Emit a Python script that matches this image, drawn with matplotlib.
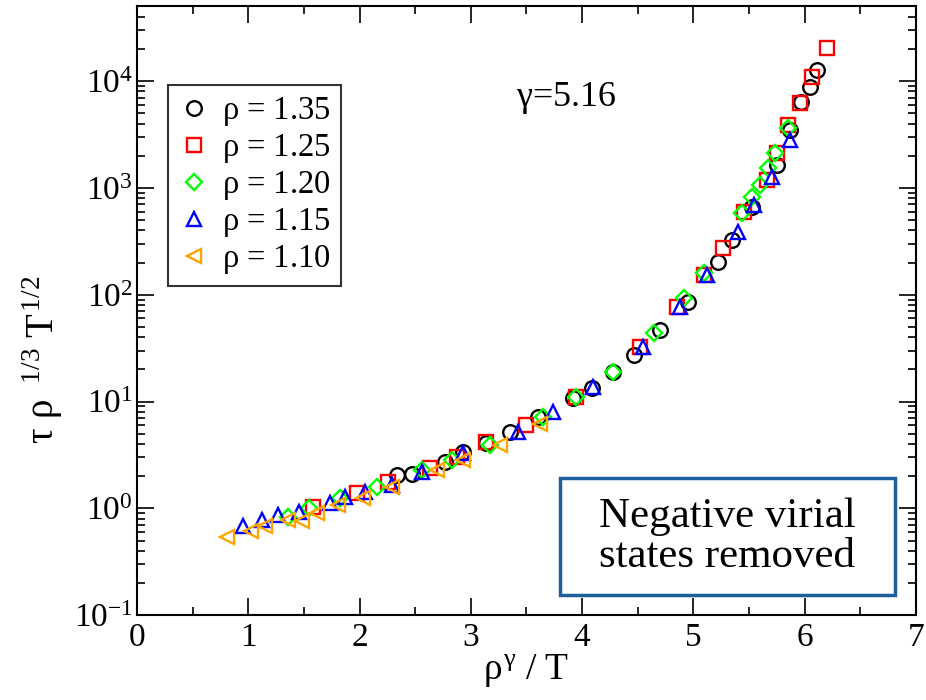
import matplotlib
matplotlib.use("Agg")
import matplotlib.pyplot as plt
from matplotlib.patches import Rectangle
from matplotlib.ticker import LogLocator, MultipleLocator, NullFormatter

plt.rcParams['font.family'] = ['Liberation Serif', 'DejaVu Serif']
plt.rcParams['mathtext.fontset'] = 'custom'
plt.rcParams['mathtext.rm'] = 'Liberation Serif'
plt.rcParams['mathtext.it'] = 'Liberation Serif'

# rho = 1.35
x135 = [2.34, 2.47, 2.77, 2.93, 3.14, 3.35, 3.60, 3.92, 4.09, 4.28, 4.47, 4.70,
        4.95, 5.22, 5.35, 5.53, 5.75, 5.87, 5.97, 6.05, 6.11]
y135 = [2.05, 2.09, 2.71, 3.36, 4.07, 5.16, 7.14, 10.8, 13.3, 18.8, 27.2, 46.6,
        85.3, 202, 324, 661, 1634, 3475, 6360, 8790, 12680]
# rho = 1.25
x125 = [1.58, 1.98, 2.26, 2.63, 2.88, 3.14, 3.50, 3.95, 4.52, 4.85, 5.10, 5.27,
        5.46, 5.66, 5.75, 5.85, 5.96, 6.07, 6.20]
y125 = [1.03, 1.39, 1.76, 2.38, 3.01, 4.17, 6.02, 11.0, 32.3, 76.6, 153, 273,
        593, 1183, 2118, 3875, 6223, 10900, 20370]
# rho = 1.20
x120 = [1.36, 1.55, 1.82, 2.16, 2.56, 2.83, 3.17, 3.65, 3.95, 4.28, 4.65, 4.92,
        5.10, 5.44, 5.53, 5.60, 5.67, 5.73, 5.85]
y120 = [0.83, 1.00, 1.25, 1.58, 2.28, 2.83, 3.91, 7.14, 11.0, 18.8, 43.6, 92.9,
        159, 581, 820, 1062, 1531, 2118, 3631]
# rho = 1.15
x115 = [0.95, 1.12, 1.27, 1.46, 1.73, 1.87, 2.05, 2.29, 2.56, 2.93, 3.42, 3.74,
        4.10, 4.55, 4.88, 5.12, 5.40, 5.55, 5.71, 5.87]
y115 = [0.68, 0.78, 0.86, 0.92, 1.12, 1.27, 1.42, 1.65, 2.18, 3.29, 5.16, 7.96,
        13.6, 32.3, 76.6, 153, 385, 690, 1262, 2808]
# rho = 1.10
x110 = [0.81, 1.02, 1.15, 1.36, 1.48, 1.62, 1.81, 2.03, 2.29, 2.70, 2.93, 3.26, 3.62]
y110 = [0.54, 0.61, 0.68, 0.78, 0.76, 0.90, 1.07, 1.25, 1.58, 2.28, 2.83, 3.91, 6.14]

series = [
    (x135, y135, 'o', 'black', r'$\rho$ = 1.35'),
    (x125, y125, 's', '#ff0000', r'$\rho$ = 1.25'),
    (x120, y120, 'D', '#00ff00', r'$\rho$ = 1.20'),
    (x115, y115, '^', '#0000ff', r'$\rho$ = 1.15'),
    (x110, y110, '<', '#ffa500', r'$\rho$ = 1.10'),
]

fig = plt.figure(figsize=(9.26, 7.0), dpi=100)
ax = fig.add_axes([0.148, 0.121, 0.841, 0.870])

for xs, ys, m, c, lab in series:
    ms = 8.5 if m == 'D' else 10.5
    ax.plot(xs, ys, linestyle='none', marker=m, markersize=ms, markerfacecolor='none',
            markeredgecolor=c, markeredgewidth=1.7, label=lab)

ax.set_yscale('log')
ax.set_xlim(0, 7)
ax.set_ylim(0.1, 5e4)
ax.xaxis.set_major_locator(MultipleLocator(1))
ax.xaxis.set_minor_locator(MultipleLocator(0.5))
ax.yaxis.set_major_locator(LogLocator(base=10, numticks=10))
ax.yaxis.set_minor_locator(LogLocator(base=10, subs=range(2, 10), numticks=20))
ax.yaxis.set_minor_formatter(NullFormatter())
ax.tick_params(which='both', direction='in', top=True, right=True, labelsize=24, width=1.2)
ax.tick_params(which='major', length=12)
ax.tick_params(which='minor', length=6)
ax.tick_params(axis='y', which='major', pad=3)
ax.tick_params(axis='x', which='major', pad=5)
for s in ax.spines.values():
    s.set_linewidth(1.5)

ax.set_xlabel(r'$\rho^{\gamma}$ / T', fontsize=27, labelpad=0)
ax.set_ylabel(r'$\tau\ \rho^{\ \ 1/3}\ T^{1/2}$', fontsize=28)
ax.yaxis.set_label_coords(-0.092, 0.42)

ax.text(3.41, 7000, r'$\gamma$=5.16', fontsize=26, va='center', ha='left')

leg = ax.legend(loc='upper left', bbox_to_anchor=(0.040, 0.870), fontsize=23.5,
                frameon=True, fancybox=False, edgecolor='black', handletextpad=0.35,
                borderpad=0.3, labelspacing=0.12, handlelength=1.0, borderaxespad=0)
leg.get_frame().set_linewidth(1.5)

ax.add_patch(Rectangle((0.543, 0.033), 0.430, 0.192, transform=ax.transAxes,
                       facecolor='white', edgecolor='#1f5f9a', linewidth=2.5, zorder=5))
ax.text(0.758, 0.129, 'Negative virial\nstates removed', transform=ax.transAxes,
        fontsize=31, ha='center', va='center', linespacing=1.05, zorder=6)

fig.savefig('out.png', dpi=100)
